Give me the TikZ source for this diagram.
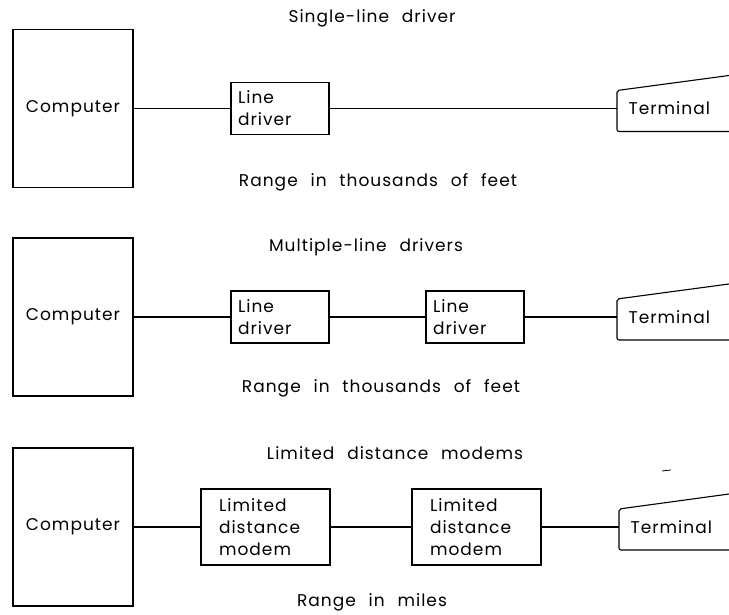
\documentclass[tikz,border=0pt]{standalone}
\usepackage{fontspec}
\setmainfont[LetterSpace=6,WordSpace=2.3]{Poppins}

\begin{document}
\begin{tikzpicture}[x=1pt,y=-1pt,line width=1.1pt,
  every node/.style={font=\fontsize{17}{22}\selectfont},
  compbox/.style={draw,rectangle,minimum width=120pt,minimum height=158pt,inner sep=0pt},
  drvbox/.style={draw,rectangle,align=left,text width=84pt,inner xsep=7pt,inner ysep=2pt,minimum height=52pt},
  mdmbox/.style={draw,rectangle,align=left,text width=93pt,inner xsep=18pt,inner ysep=2pt,minimum height=76pt},
  termtxt/.style={anchor=west,inner xsep=11pt},
  caption/.style={inner sep=0pt}]
\useasboundingbox (0,0) rectangle (729,615);

% single-line driver
\node[caption] (title1) at (372,18) {Single-line driver};
\node[compbox] (comp1) at (73,108.5) {Computer};
\node[drvbox] (drv1) at (280,108.5) {Line\\driver};
\node[termtxt] (term1) at (617,108.5) {Terminal};
\draw[rounded corners=2pt] (729,75.5) -- (617,90.5) -- (617,131.5) -- (729,131.5);
\node[caption] (range1) at (378,182) {Range in thousands of feet};

\draw (comp1) -- (drv1);
\draw (drv1) -- (term1.west);

% multiple-line drivers
\node[caption] (title2) at (366,247) {Multiple-line drivers};
\node[compbox] (comp2) at (73,317) {Computer};
\node[drvbox] (drv2a) at (280,317) {Line\\driver};
\node[drvbox] (drv2b) at (475,317) {Line\\driver};
\node[termtxt] (term2) at (617,317) {Terminal};
\draw[rounded corners=2pt] (729,284) -- (617,299) -- (617,340) -- (729,340);
\node[caption] (range2) at (381,388) {Range in thousands of feet};

\draw (comp2) -- (drv2a);
\draw (drv2a) -- (drv2b);
\draw (drv2b) -- (term2.west);

% limited distance modems
\node[caption] (title3) at (395,453) {Limited distance modems};
\node[compbox] (comp3) at (73,527) {Computer};
\node[mdmbox] (mdm3a) at (265.5,527) {Limited\\distance\\modem};
\node[mdmbox] (mdm3b) at (476.5,527) {Limited\\distance\\modem};
\node[termtxt] (term3) at (619,527) {Terminal};
\draw[rounded corners=2pt] (729,494) -- (619,509) -- (619,550) -- (729,550);
\node[caption] (range3) at (372,602) {Range in miles};

\draw (comp3) -- (mdm3a);
\draw (mdm3a) -- (mdm3b);
\draw (mdm3b) -- (term3.west);

\draw[line width=0.8pt] (662,471) -- (671,470);

\end{tikzpicture}
\end{document}
